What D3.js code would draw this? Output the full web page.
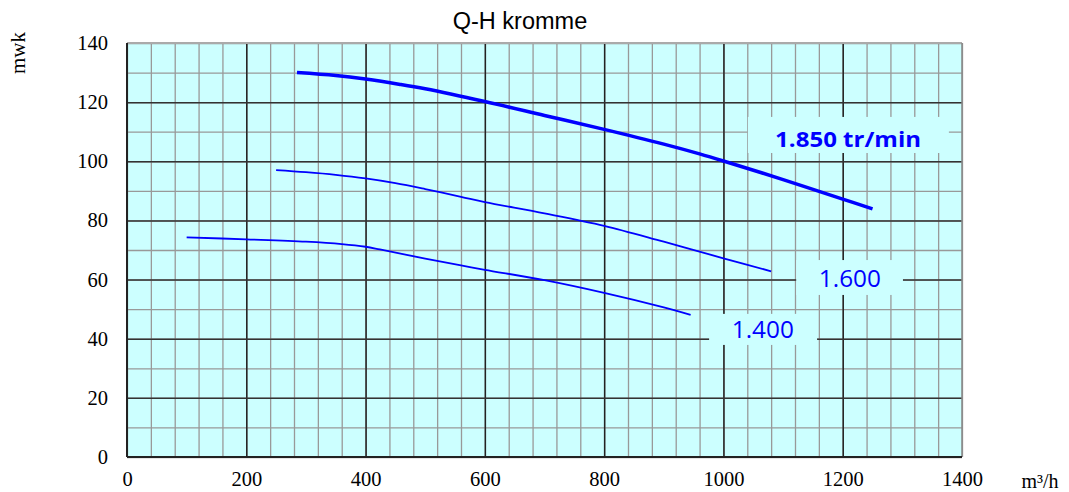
<!DOCTYPE html>
<html><head><meta charset="utf-8">
<script src="https://cdn.jsdelivr.net/npm/d3@7"></script>
<style>body{margin:0;background:#fff}svg{display:block}</style>
</head><body>
<svg id="c" width="1069" height="492"></svg>
<script>
const xTicks = [0,200,400,600,800,1000,1200,1400];
const yTicks = [0,20,40,60,80,100,120,140];
const q1850 = [285,350,400,458,500,600,700,800,900,960,1000,1100,1200,1250];
const h1850 = [130,129,127.8,126,124.5,120.2,115.5,110.8,105.8,102.5,100.1,93.8,87.2,83.9];
const q1600 = [250,300,350,400,450,500,560,600,700,800,900,1000,1080];
const h1600 = [97,96.3,95.4,94.2,92.6,90.6,88,86.2,82.4,78.2,72.8,67.2,62.8];
const q1400 = [100,200,300,360,400,424,500,560,600,700,800,900,945];
const h1400 = [74.3,73.6,72.8,72,71.1,70.2,67.1,64.8,63.3,59.8,55.5,50.6,48.1];
const seriesLabels = ["1.850 tr/min","1.600","1.400"];

const svg = d3.select("#c");
const L=127,R=962,T=43,B=457;
const x = d3.scaleLinear().domain([0,1400]).range([L,R]);
const y = d3.scaleLinear().domain([0,140]).range([B,T]);

svg.append("rect").attr("x",L).attr("y",T).attr("width",R-L).attr("height",B-T).attr("fill","#ccffff");

// minor grid
const g = svg.append("g");
g.append("g").attr("transform",`translate(0,${B})`)
 .call(d3.axisBottom(x).tickValues(d3.range(0,1401,40)).tickSize(-(B-T)).tickFormat(""))
 .call(s=>{s.select(".domain").remove();s.selectAll("line").attr("stroke","#999").attr("stroke-width",1.3);});
g.append("g").attr("transform",`translate(${L},0)`)
 .call(d3.axisLeft(y).tickValues(d3.range(0,141,10)).tickSize(-(R-L)).tickFormat(""))
 .call(s=>{s.select(".domain").remove();s.selectAll("line").attr("stroke","#999").attr("stroke-width",1.3);});
// major grid
g.append("g").attr("transform",`translate(0,${B})`)
 .call(d3.axisBottom(x).tickValues(xTicks.slice(1,-1)).tickSize(-(B-T)).tickFormat(""))
 .call(s=>{s.select(".domain").remove();s.selectAll("line").attr("stroke","#222").attr("stroke-width",1.5);});
g.append("g").attr("transform",`translate(${L},0)`)
 .call(d3.axisLeft(y).tickValues(yTicks.slice(1,-1)).tickSize(-(R-L)).tickFormat(""))
 .call(s=>{s.select(".domain").remove();s.selectAll("line").attr("stroke","#333").attr("stroke-width",1.5);});

// borders
svg.append("line").attr("x1",L).attr("x2",R).attr("y1",T).attr("y2",T).attr("stroke","#aaa").attr("stroke-width",2);
svg.append("line").attr("x1",R).attr("x2",R).attr("y1",T).attr("y2",B).attr("stroke","#888").attr("stroke-width",1.5);
svg.append("line").attr("x1",L).attr("x2",R).attr("y1",B).attr("y2",B).attr("stroke","#222").attr("stroke-width",2);
svg.append("line").attr("x1",L).attr("x2",L).attr("y1",T).attr("y2",B).attr("stroke","#222").attr("stroke-width",2);

// axis labels
const xa = svg.append("g").attr("transform",`translate(0,${B})`)
 .call(d3.axisBottom(x).tickValues(xTicks).tickSize(0).tickPadding(14).tickFormat(d3.format("d")));
xa.select(".domain").remove();
xa.selectAll("text").attr("font-family","'Liberation Serif',serif").attr("font-size",20.5).attr("fill","#000");
const ya = svg.append("g").attr("transform",`translate(${L},0)`)
 .call(d3.axisLeft(y).tickValues(yTicks).tickSize(0).tickPadding(19).tickFormat(d3.format("d")));
ya.select(".domain").remove();
ya.selectAll("text").attr("font-family","'Liberation Serif',serif").attr("font-size",20.5).attr("fill","#000");

svg.append("text").attr("x",1040).attr("y",488).attr("text-anchor","middle")
 .attr("font-family","'Liberation Serif',serif").attr("font-size",20).text("m³/h");
svg.append("text").attr("transform","translate(25,53) rotate(-90)").attr("text-anchor","middle")
 .attr("font-family","'Liberation Serif',serif").attr("font-size",21).text("mwk");
svg.append("text").attr("x",520).attr("y",29).attr("text-anchor","middle")
 .attr("font-family","'Liberation Sans',Arial,sans-serif").attr("font-size",23.5).text("Q-H kromme");

// curves
const line = d3.line().x(d=>x(d[0])).y(d=>y(d[1])).curve(d3.curveCatmullRom.alpha(0.5));
const mk = (q,h)=>q.map((v,i)=>[v,h[i]]);
svg.append("path").attr("d",line(mk(q1850,h1850))).attr("fill","none").attr("stroke","#0000ff").attr("stroke-width",3.5);
svg.append("path").attr("d",line(mk(q1600,h1600))).attr("fill","none").attr("stroke","#0000ff").attr("stroke-width",1.8);
svg.append("path").attr("d",line(mk(q1400,h1400))).attr("fill","none").attr("stroke","#0000ff").attr("stroke-width",1.8);

// labels
const boxes = [
 {x0:1041,x1:1378,y0:115,y1:102.8,cx:1209,cy:107.6,bold:true,size:21,len:146},
 {x0:1122,x1:1301,y0:66.6,y1:54.8,cx:1212,cy:60.5,bold:false,size:23.5,len:62},
 {x0:976,x1:1157,y0:48.4,y1:37.9,cx:1066,cy:43.3,bold:false,size:23.5,len:62}
];
boxes.forEach((b,i)=>{
 svg.append("rect").attr("x",x(b.x0)).attr("y",y(b.y0)).attr("width",x(b.x1)-x(b.x0)).attr("height",y(b.y1)-y(b.y0)).attr("fill","#ccffff");
 svg.append("text").attr("x",x(b.cx)).attr("y",y(b.cy)).attr("text-anchor","middle").attr("dominant-baseline","central")
  .attr("font-family","'Open Sans',Lato,sans-serif").attr("font-weight",b.bold?"bold":"normal").attr("font-size",b.size)
  .attr("textLength",b.len).attr("lengthAdjust","spacingAndGlyphs")
  .attr("fill","#0000ff").text(seriesLabels[i]);
});
</script>
</body></html>
